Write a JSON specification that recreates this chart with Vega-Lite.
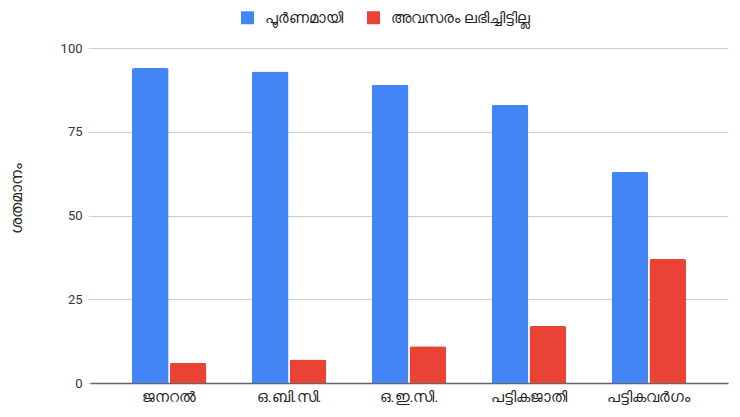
{
  "$schema": "https://vega.github.io/schema/vega-lite/v6.json",
  "width": 638,
  "height": 335,
  "autosize": "none",
  "padding": {"left": 90, "top": 48, "right": 12, "bottom": 34},
  "background": "white",
  "data": {
    "values": [
      {"group": "ജനറൽ", "series": "പൂർണമായി", "value": 94},
      {"group": "ജനറൽ", "series": "അവസരം ലഭിച്ചിട്ടില്ല", "value": 6},
      {"group": "ഒ.ബി.സി.", "series": "പൂർണമായി", "value": 93},
      {"group": "ഒ.ബി.സി.", "series": "അവസരം ലഭിച്ചിട്ടില്ല", "value": 7},
      {"group": "ഒ.ഇ.സി.", "series": "പൂർണമായി", "value": 89},
      {"group": "ഒ.ഇ.സി.", "series": "അവസരം ലഭിച്ചിട്ടില്ല", "value": 11},
      {"group": "പട്ടികജാതി", "series": "പൂർണമായി", "value": 83},
      {"group": "പട്ടികജാതി", "series": "അവസരം ലഭിച്ചിട്ടില്ല", "value": 17},
      {"group": "പട്ടികവർഗം", "series": "പൂർണമായി", "value": 63},
      {"group": "പട്ടികവർഗം", "series": "അവസരം ലഭിച്ചിട്ടില്ല", "value": 37}
    ]
  },
  "mark": {"type": "bar", "cornerRadiusTopLeft": 2, "cornerRadiusTopRight": 2},
  "encoding": {
    "x": {
      "field": "group", "type": "nominal", "sort": null,
      "scale": {"paddingInner": 0.38, "paddingOuter": 0.35},
      "axis": {"title": null, "labelAngle": 0, "labelFontSize": 15, "labelColor": "#222", "labelFont": "Roboto",
               "domainColor": "#666", "domainWidth": 1.5, "ticks": false, "labelPadding": 6}
    },
    "xOffset": {"field": "series", "type": "nominal", "sort": ["പൂർണമായി", "അവസരം ലഭിച്ചിട്ടില്ല"], "scale": {"paddingInner": 0.03}},
    "y": {
      "field": "value", "type": "quantitative",
      "scale": {"domain": [0, 100]},
      "axis": {"title": "ശതമാനം", "titleFontSize": 16, "titleFontWeight": "normal", "titleColor": "#222", "titlePadding": 36, "titleY": 150,
               "values": [0, 25, 50, 75, 100], "labelFontSize": 13, "labelColor": "#333", "labelFont": "Roboto",
               "gridColor": "#ccc", "domain": false, "ticks": true, "tickColor": "#ccc", "tickSize": 2, "labelPadding": 6}
    },
    "color": {
      "field": "series", "type": "nominal", "sort": ["പൂർണമായി", "അവസരം ലഭിച്ചിട്ടില്ല"],
      "scale": {"range": ["#4285f4", "#ea4335"]},
      "legend": {"title": null, "orient": "none", "direction": "horizontal", "legendX": 150, "legendY": -38,
                 "symbolType": "square", "symbolSize": 169, "symbolStrokeWidth": 0, "symbolOpacity": 1,
                 "labelFontSize": 15, "labelColor": "#222", "columnPadding": 23, "labelOffset": 10}
    }
  },
  "config": {"view": {"stroke": null}, "font": "Roboto"}
}
